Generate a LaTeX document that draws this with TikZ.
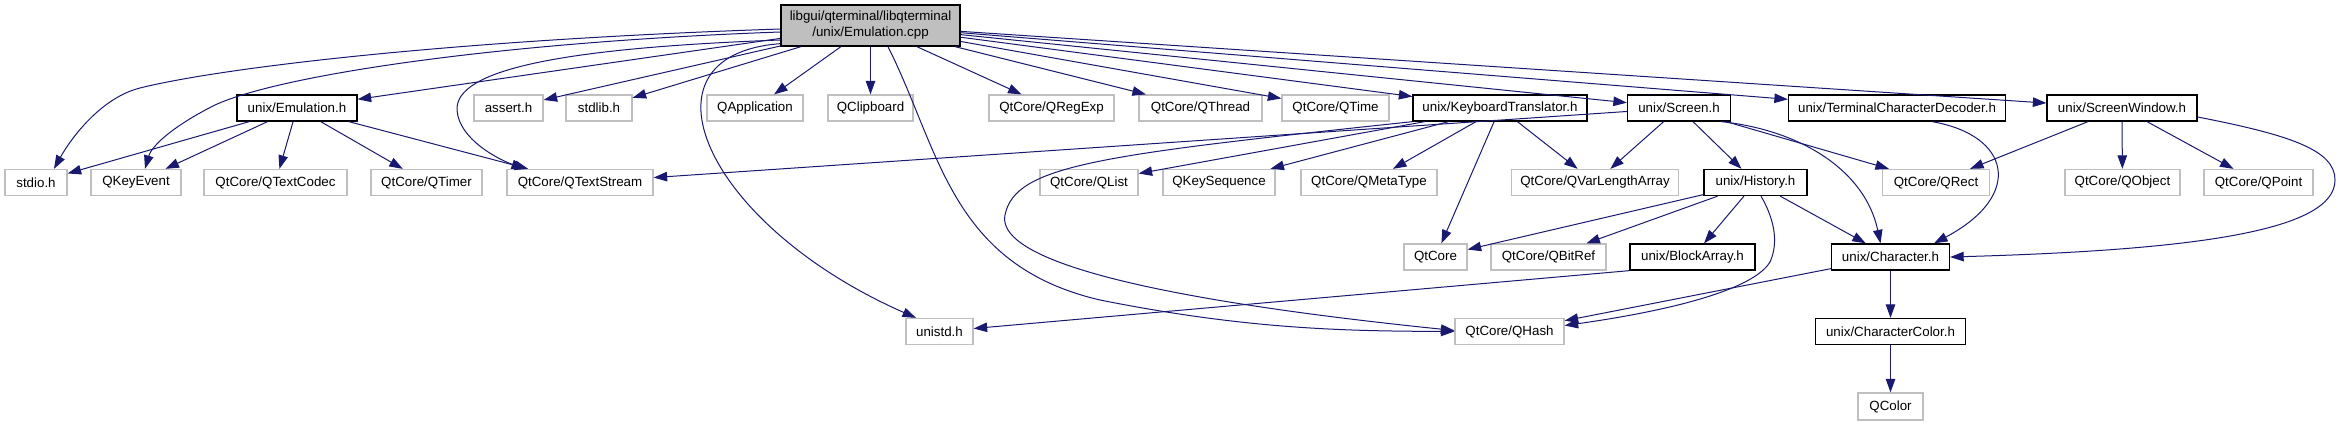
\documentclass[tikz,border=0pt]{standalone}
\usepackage{fontspec}
\setmainfont{Liberation Sans}
\usetikzlibrary{arrows.meta}
\definecolor{boxgrey}{HTML}{BFBFBF}
\definecolor{edgeblue}{HTML}{191970}
\tikzset{every node/.style={font=\fontsize{13.33}{16}\selectfont, inner sep=0pt, minimum height=26pt, line width=1.3pt},
         header/.style={draw=black, fill=white},
         external/.style={draw=boxgrey, fill=white},
         current/.style={draw=black, fill=boxgrey, minimum height=41pt, align=center},
         include/.style={draw=edgeblue, line width=1pt, -{Triangle[length=13.5pt,width=9.5pt]}},
        }

\begin{document}
\begin{tikzpicture}[x=1pt,y=-1pt]
        \useasboundingbox (0,0) rectangle (2341,425);
        \node[current, minimum width=179pt](root)at(870.5,25.5){libgui/qterminal/libqterminal\\/unix/Emulation.cpp};

        \node[header, minimum width=120pt](emuh)at(297,108){unix/Emulation.h};
        \node[external, minimum width=69pt](assert)at(508.5,108){assert.h};
        \node[external, minimum width=66pt](stdlib)at(599,108){stdlib.h};
        \node[external, minimum width=96pt](qapp)at(755,108){QApplication};
        \node[external, minimum width=85pt](qclip)at(870.5,108){QClipboard};
        \node[external, minimum width=125pt](qregexp)at(1051.5,108){QtCore/QRegExp};
        \node[external, minimum width=123pt](qthread)at(1200.5,108){QtCore/QThread};
        \node[external, minimum width=107pt](qtime)at(1335.5,108){QtCore/QTime};
        \node[header, minimum width=174pt](kbd)at(1500,108){unix/KeyboardTranslator.h};
        \node[header, minimum width=103pt](screen)at(1679,108){unix/Screen.h};
        \node[header, minimum width=217pt](tcd)at(1897,108){unix/TerminalCharacterDecoder.h};
        \node[header, minimum width=150pt](screenwin)at(2122,108){unix/ScreenWindow.h};

        \node[external, minimum width=62pt](stdio)at(36,182.5){stdio.h};
        \node[external, minimum width=90pt](qkeyevent)at(136,182.5){QKeyEvent};
        \node[external, minimum width=143pt](qtextcodec)at(275.5,182.5){QtCore/QTextCodec};
        \node[external, minimum width=111pt](qtimer)at(426.5,182.5){QtCore/QTimer};
        \node[external, minimum width=146pt](qtextstream)at(580,182.5){QtCore/QTextStream};
        \node[external, minimum width=98pt](qlist)at(1089,182.5){QtCore/QList};
        \node[external, minimum width=112pt](qkeyseq)at(1219,182.5){QKeySequence};
        \node[external, minimum width=136pt](qmetatype)at(1369,182.5){QtCore/QMetaType};
        \node[external, minimum width=167pt](qvarlen)at(1595,182.5){QtCore/QVarLengthArray};
        \node[header, minimum width=103pt](history)at(1755.5,182.5){unix/History.h};
        \node[external, minimum width=107pt](qrect)at(1936,182.5){QtCore/QRect};
        \node[external, minimum width=115pt](qobject)at(2122.4,182.5){QtCore/QObject};
        \node[external, minimum width=109pt](qpoint)at(2258.5,182.5){QtCore/QPoint};

        \node[external, minimum width=63pt](qtcore)at(1435.5,257){QtCore};
        \node[external, minimum width=115pt](qbitref)at(1548.5,257){QtCore/QBitRef};
        \node[header, minimum width=125pt](blockarray)at(1692.5,257){unix/BlockArray.h};
        \node[header, minimum width=118pt](character)at(1890.5,257){unix/Character.h};

        \node[external, minimum width=67pt](unistd)at(939.5,331.5){unistd.h};
        \node[external, minimum width=109pt](qhash)at(1509.5,331.5){QtCore/QHash};
        \node[header, minimum width=150pt](charcolor)at(1890.5,331.5){unix/CharacterColor.h};

        \node[external, minimum width=65pt, minimum height=27pt](qcolor)at(1890.5,406.5){QColor};

        % includes of Emulation.cpp
        \draw[include]([yshift=-3.5pt]root.west) .. controls (450,40) and (220,68) .. (140,88) .. controls (100,98) and (70,140) .. ([xshift=18pt]stdio.north);
        \draw[include]([yshift=-6.5pt]root.west) .. controls (500,42) and (280,75) .. (215,105) .. controls (175,125) and (152,145) .. ([xshift=9pt]qkeyevent.north);
        \draw[include](root)--(emuh);
        \draw[include]([yshift=-14.5pt]root.west) .. controls (560,48) and (455,70) .. (457,110) .. controls (459,140) and (500,160) .. ([xshift=-55pt]qtextstream.north);
        \draw[include](root)--(assert);
        \draw[include](root)--(stdlib);
        \draw[include](root)--(qapp);
        \draw[include](root)--(qclip);
        \draw[include]([yshift=3pt]root.south west) .. controls (630,55) and (705,225) .. ([xshift=-23.5pt]unistd.north);
        \draw[include]([xshift=17.5pt]root.south) .. controls (940,150) and (950,265) .. (1100,300) .. controls (1250,330) and (1350,331) .. (qhash.west);
        \draw[include](root)--(qregexp);
        \draw[include](root)--(qthread);
        \draw[include](root)--(qtime);
        \draw[include](root)--(kbd);
        \draw[include](root)--(screen);
        \draw[include](root)--(tcd);
        \draw[include](root)--(screenwin);

        % Emulation.h
        \draw[include](emuh)--(stdio);
        \draw[include](emuh)--(qkeyevent);
        \draw[include](emuh)--(qtextcodec);
        \draw[include](emuh)--(qtimer);
        \draw[include](emuh)--(qtextstream);

        % KeyboardTranslator.h
        \draw[include](kbd)--(qlist);
        \draw[include](kbd)--(qkeyseq);
        \draw[include](kbd)--(qmetatype);
        \draw[include](kbd)--(qtcore);
        \draw[include](kbd)--(qvarlen);
        \draw[include](kbd.south west) .. controls (1100,155) and (1015,165) .. (1005,215) .. controls (999,245) and (1060,290) .. ([yshift=1pt]qhash.west);

        % Screen.h, TerminalCharacterDecoder.h, ScreenWindow.h
        \draw[include](screen)--(qtextstream);
        \draw[include](screen)--(qvarlen);
        \draw[include](screen)--(history);
        \draw[include](screen)--(qrect);
        \draw[include]([xshift=-10pt]screen.south east) .. controls (1800,130) and (1865,170) .. ([xshift=-10pt]character.north);
        \draw[include]([xshift=35pt]tcd.south) .. controls (2010,135) and (2025,195) .. ([xshift=43.5pt]character.north);
        \draw[include](screenwin)--(qrect);
        \draw[include](screenwin)--(qobject);
        \draw[include](screenwin)--(qpoint);
        \draw[include]([yshift=-9pt]screenwin.east) .. controls (2290,135) and (2335,150) .. (2335,180) .. controls (2335,230) and (2200,250) .. (character.east);

        % History.h and below
        \draw[include](history)--(qtcore);
        \draw[include](history)--(qbitref);
        \draw[include](history)--(blockarray);
        \draw[include](history)--(character);
        \draw[include]([xshift=5.5pt]history.south) .. controls (1772,215) and (1780,240) .. (1770,262) .. controls (1750,295) and (1640,315) .. ([yshift=6pt]qhash.east);
        \draw[include](blockarray.south west)--(unistd);
        \draw[include](character)--(qhash);
        \draw[include](character)--(charcolor);
        \draw[include](charcolor)--(qcolor);
    \end{tikzpicture}
\end{document}
